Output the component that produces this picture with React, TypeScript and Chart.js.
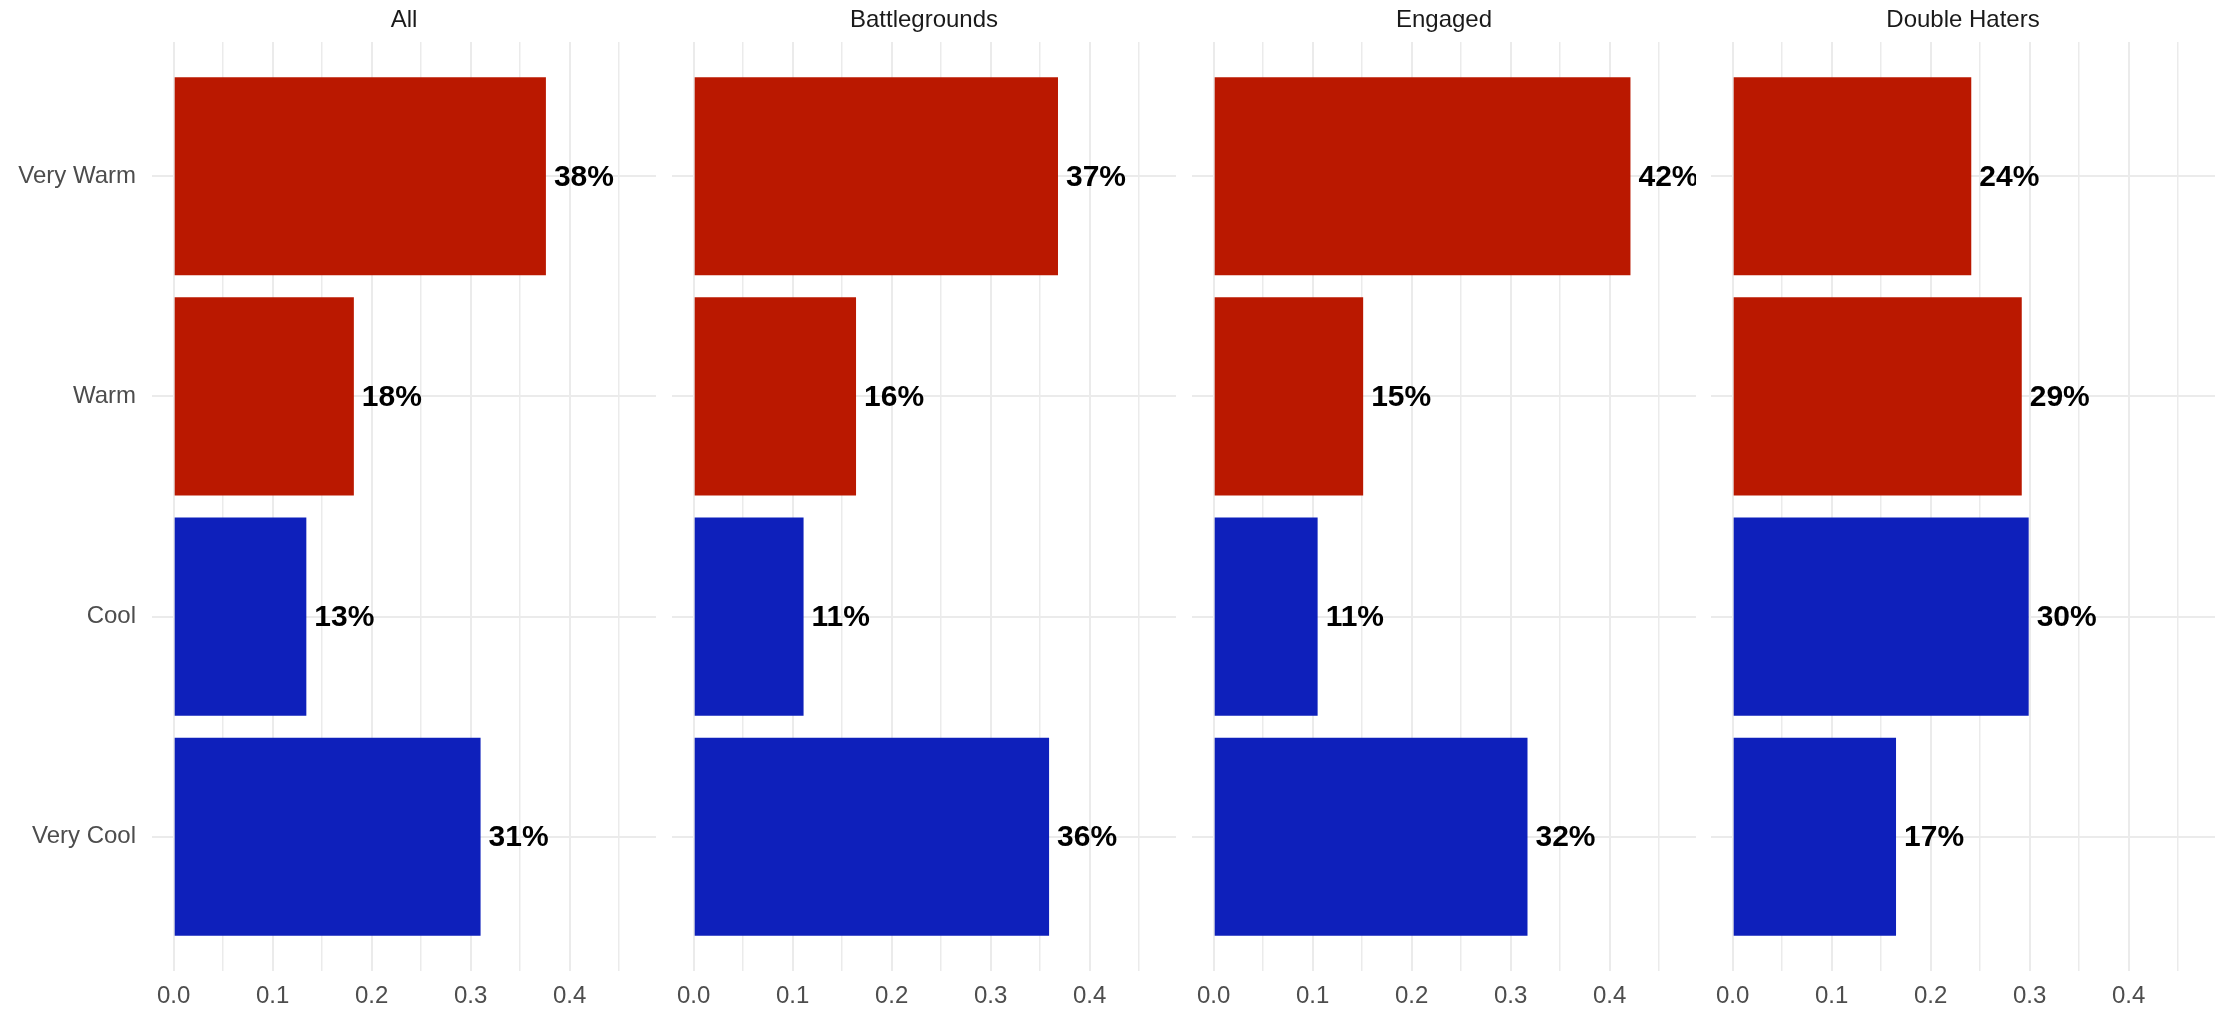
import React, { useEffect, useRef } from 'react';
import { Chart, registerables } from 'chart.js';

Chart.register(...registerables);

// ---- data ----
const categories = ['Very Warm', 'Warm', 'Cool', 'Very Cool'];
const panelTitles = ['All', 'Battlegrounds', 'Engaged', 'Double Haters'];
const allValues = [0.376, 0.182, 0.134, 0.31];
const battlegroundsValues = [0.368, 0.164, 0.111, 0.359];
const engagedValues = [0.421, 0.151, 0.105, 0.317];
const doubleHatersValues = [0.241, 0.292, 0.299, 0.165];
const xTickValues = [0, 0.05, 0.1, 0.15, 0.2, 0.25, 0.3, 0.35, 0.4, 0.45];
const categoryIsWarm = [true, true, false, false];

const WARM = '#BA1800';
const COOL = '#0E20BB';
const GRID = '#EBEBEB';
const FAMILY = "'Liberation Sans', Arial, Helvetica, sans-serif";

const PANEL_LEFTS = [152, 672, 1192, 1711];
const PANEL_WIDTH = 504;
const X_MIN = -0.0219;
const X_MAX = 0.4872;

type PanelProps = { title: string; values: number[]; index: number };

function Panel({ title, values, index }: PanelProps) {
  const ref = useRef<HTMLCanvasElement | null>(null);
  const showY = index === 0;
  const yWidth = showY ? 152 : 20;
  const canvasLeft = PANEL_LEFTS[index] - yWidth;
  const canvasWidth = PANEL_WIDTH + yWidth;

  useEffect(() => {
    if (!ref.current) return;
    const labelPlugin = {
      id: 'valueLabels' + index,
      afterDatasetsDraw(chart: any) {
        const { ctx, chartArea } = chart;
        const meta = chart.getDatasetMeta(0);
        ctx.save();
        ctx.beginPath();
        ctx.rect(chartArea.left, chartArea.top, chartArea.right - chartArea.left, chartArea.bottom - chartArea.top);
        ctx.clip();
        ctx.font = `bold 30px ${FAMILY}`;
        ctx.fillStyle = '#000000';
        ctx.textAlign = 'left';
        ctx.textBaseline = 'middle';
        meta.data.forEach((bar: any, i: number) => {
          ctx.fillText(Math.round(values[i] * 100) + '%', bar.x + 8, bar.y + 1);
        });
        ctx.restore();
        ctx.save();
        ctx.font = `24px ${FAMILY}`;
        ctx.fillStyle = '#1A1A1A';
        ctx.textAlign = 'center';
        ctx.textBaseline = 'middle';
        ctx.fillText(title, (chartArea.left + chartArea.right) / 2, 20);
        ctx.restore();
      },
    };

    const chart = new Chart(ref.current, {
      type: 'bar',
      data: {
        datasets: [
          {
            data: values.map((v, i) => ({ x: v, y: i })) as any,
            backgroundColor: categoryIsWarm.map((w) => (w ? WARM : COOL)),
            borderWidth: 0,
            barPercentage: 0.9,
            categoryPercentage: 1,
          },
        ],
      },
      options: {
        indexAxis: 'y',
        responsive: false,
        animation: false,
        devicePixelRatio: 1,
        layout: { padding: { top: 42, bottom: 0, left: 0, right: 0 } },
        plugins: {
          legend: { display: false },
          tooltip: { enabled: false },
          title: { display: false },
        },
        scales: {
          x: {
            type: 'linear',
            offset: false,
            min: X_MIN,
            max: X_MAX,
            afterBuildTicks: (s: any) => {
              s.ticks = xTickValues.map((v) => ({ value: v }));
            },
            afterFit: (s: any) => {
              s.height = 39;
            },
            ticks: {
              autoSkip: false,
              maxRotation: 0,
              minRotation: 0,
              padding: 11,
              color: '#4D4D4D',
              font: { size: 24, family: FAMILY },
              callback: (v: any, i: number) => (i % 2 === 0 ? Number(v).toFixed(1) : ''),
            },
            grid: {
              offset: false,
              color: GRID,
              lineWidth: (c: any) => (c.index % 2 === 0 ? 2 : 1.5),
              drawTicks: false,
            },
            border: { display: false },
          },
          y: {
            type: 'linear',
            offset: false,
            reverse: true,
            min: -0.61,
            max: 3.61,
            afterBuildTicks: (s: any) => {
              s.ticks = categories.map((_, i) => ({ value: i }));
            },
            afterFit: (s: any) => {
              s.width = yWidth;
            },
            ticks: {
              display: showY,
              autoSkip: false,
              padding: 16,
              color: '#4D4D4D',
              font: { size: 24, family: FAMILY },
              callback: (v: any) => categories[Number(v)] ?? '',
            },
            grid: { offset: false, color: GRID, lineWidth: 2, drawTicks: false },
            border: { display: false },
          },
        },
      } as any,
      plugins: [labelPlugin],
    });
    return () => chart.destroy();
  }, []);

  return (
    <canvas
      ref={ref}
      width={canvasWidth}
      height={1010}
      style={{ position: 'absolute', left: canvasLeft, top: 0, width: canvasWidth, height: 1010 }}
    />
  );
}

export default function App() {
  const seriesList = [allValues, battlegroundsValues, engagedValues, doubleHatersValues];
  return (
    <div
      style={{
        position: 'absolute',
        left: 0,
        top: 0,
        width: 2221,
        height: 1010,
        background: '#ffffff',
        overflow: 'hidden',
      }}
    >
      {panelTitles.map((t, i) => (
        <Panel key={t} title={t} values={seriesList[i]} index={i} />
      ))}
    </div>
  );
}
